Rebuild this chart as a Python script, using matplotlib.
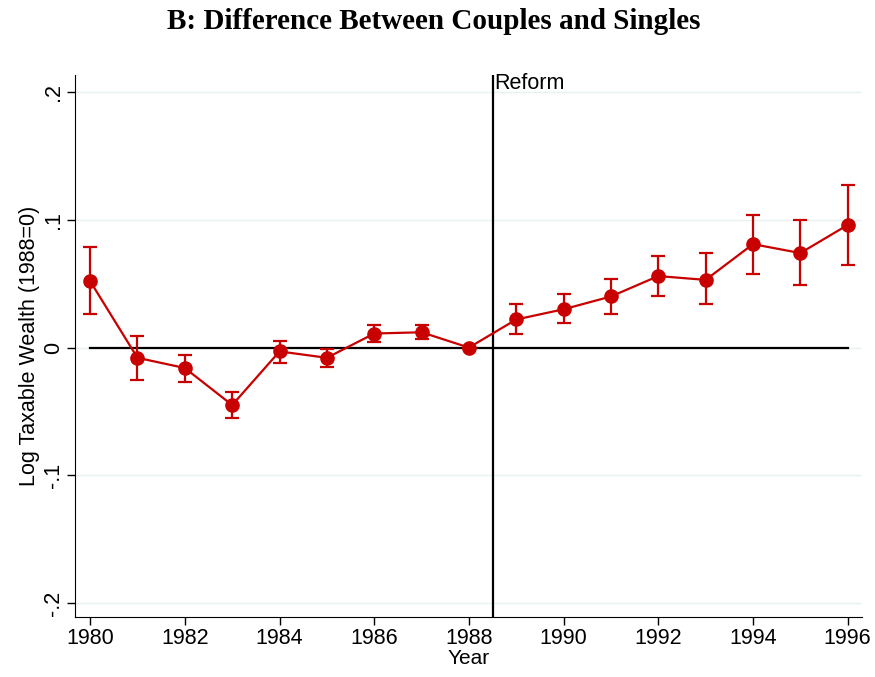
import matplotlib
matplotlib.use("Agg")
import matplotlib.pyplot as plt

RED = "#C80000"
INK = "#000000"
GRID = "#EAF1F3"

years = [1980, 1981, 1982, 1983, 1984, 1985, 1986, 1987, 1988,
         1989, 1990, 1991, 1992, 1993, 1994, 1995, 1996]
coef = [0.052, -0.008, -0.016, -0.045, -0.003, -0.008, 0.011, 0.012, 0.0,
        0.022, 0.030, 0.040, 0.056, 0.053, 0.081, 0.074, 0.096]
ci_hi = [0.079, 0.009, -0.006, -0.035, 0.005, -0.001, 0.018, 0.018, 0.0,
         0.034, 0.042, 0.054, 0.072, 0.074, 0.104, 0.100, 0.127]
ci_lo = [0.026, -0.025, -0.027, -0.055, -0.012, -0.015, 0.004, 0.007, 0.0,
         0.011, 0.019, 0.026, 0.040, 0.034, 0.058, 0.049, 0.065]
reform_year = 1988.5
xticks = list(range(1980, 1997, 2))
yticks = [-0.2, -0.1, 0.0, 0.1, 0.2]
ytick_labels = ["-.2", "-.1", "0", ".1", ".2"]

plt.rcParams.update({"font.family": ["Liberation Sans", "DejaVu Sans"], "font.size": 15})

fig = plt.figure(figsize=(8.75, 6.77), dpi=100)
ax = fig.add_axes([0.0857, 0.0885, 0.8993, 0.8005])

for y in yticks:
    ax.axhline(y, color=GRID, linewidth=1.0, zorder=0)

ax.plot([years[0], years[-1]], [0, 0], color=INK, linewidth=1.6, zorder=2)
ax.axvline(reform_year, color=INK, linewidth=1.6, zorder=2)
ax.text(reform_year + 0.04, 0.2065, "Reform", ha="left", va="center", fontsize=15.5)

err_lo = [c - l for c, l in zip(coef, ci_lo)]
err_hi = [h - c for c, h in zip(coef, ci_hi)]
ax.errorbar(years, coef, yerr=[err_lo, err_hi], color=RED, ecolor=RED,
            marker="o", markersize=9.5, linewidth=1.6, elinewidth=1.6,
            capsize=5, capthick=1.6, zorder=3)

ax.set_xlim(1979.68, 1996.3)
ax.set_ylim(-0.211, 0.2133)
ax.set_xticks(xticks)
ax.set_yticks(yticks)
ax.set_yticklabels(ytick_labels, rotation=90, va="center")
ax.tick_params(direction="out", length=6, width=1, colors=INK, labelsize=15.5, pad=2)
for s in ["top", "right"]:
    ax.spines[s].set_visible(False)
ax.set_xlabel("Year", fontsize=15, labelpad=0)
ax.set_ylabel("Log Taxable Wealth (1988=0)", fontsize=15.5, labelpad=2)

fig.text(0.4954, 0.968, "B: Difference Between Couples and Singles",
         ha="center", va="center", fontsize=21, fontweight="bold",
         family=["Liberation Serif", "DejaVu Serif"])

fig.savefig("out.png", dpi=100, facecolor="white")
